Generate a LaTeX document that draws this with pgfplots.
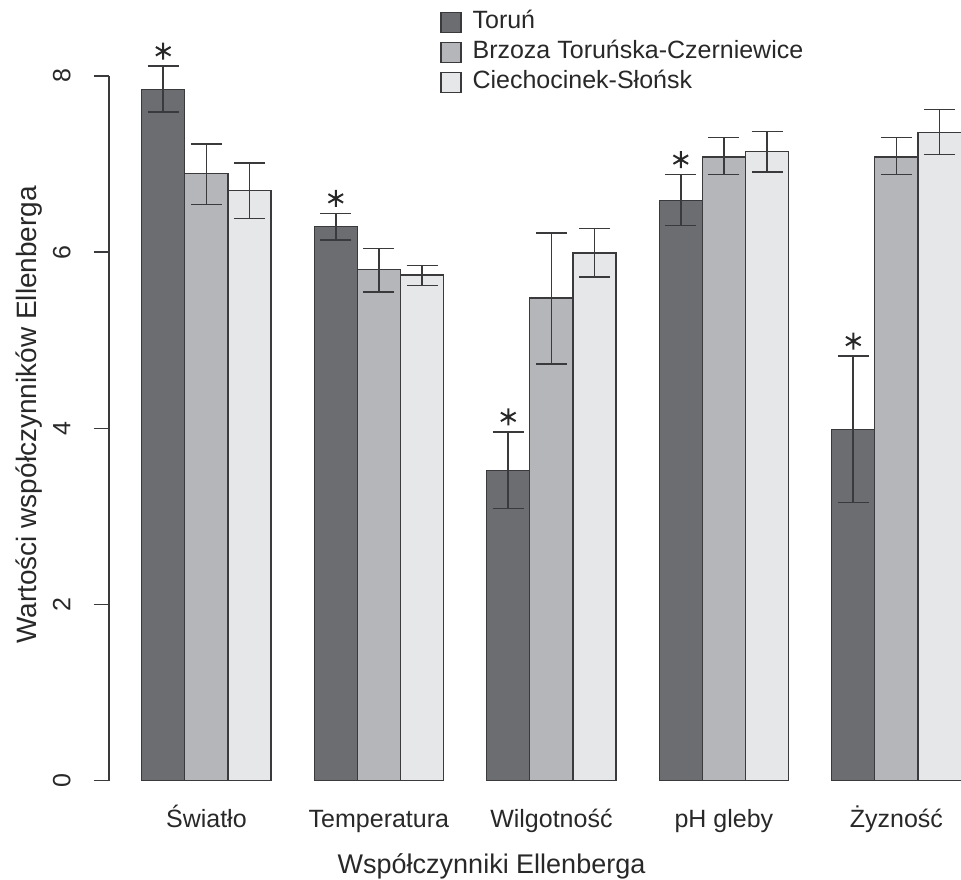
\documentclass[border=0pt]{standalone}
\usepackage{fontspec}
\setmainfont{Liberation Sans}
\usepackage{pgfplots}
\pgfplotsset{compat=1.18}
\usepackage{pgfplotstable}

\definecolor{cT}{RGB}{108,109,113}
\definecolor{cB}{RGB}{181,182,186}
\definecolor{cC}{RGB}{230,231,233}
\definecolor{edge}{RGB}{58,58,60}
\definecolor{txt}{RGB}{40,40,40}

% x = bar centre (R barplot units), y = mean, ep/em = error up/down
\pgfplotstableread{
x y ep em
1.5 7.85 0.26 0.26
5.5 6.29 0.15 0.15
9.5 3.52 0.44 0.43
13.5 6.59 0.29 0.29
17.5 3.99 0.83 0.83
}\torun
\pgfplotstableread{
x y ep em
2.5 6.89 0.34 0.35
6.5 5.80 0.24 0.25
10.5 5.48 0.74 0.75
14.5 7.08 0.22 0.20
18.5 7.08 0.22 0.20
}\brzoza
\pgfplotstableread{
x y ep em
3.5 6.70 0.31 0.32
7.5 5.74 0.11 0.12
11.5 5.99 0.28 0.27
15.5 7.14 0.23 0.23
19.5 7.36 0.26 0.25
}\ciech
\pgfplotstableread{
x y
1.5 8.28
5.5 6.61
9.5 4.13
13.5 7.05
17.5 4.99
}\stars

\begin{document}
\begin{tikzpicture}
\useasboundingbox (0,0) rectangle (480.5pt,439.5pt);
\begin{axis}[
  at={(54.45pt,49.15pt)}, anchor=south west,
  scale only axis, width=426.1pt, height=352.4pt,
  xmin=0.24, xmax=20, ymin=0, ymax=8,
  enlargelimits=false, clip=false,
  axis lines*=left,
  x axis line style={draw=none},
  y axis line style={draw=edge, line width=0.7pt},
  tick align=outside,
  major tick length=7.5pt,
  xtick style={draw=none},
  ytick style={draw=edge, line width=0.7pt},
  xtick={2.5,6.5,10.5,14.5,18.5},
  xticklabels={Światło, Temperatura, Wilgotność, pH gleby, Żyzność},
  ytick={0,2,4,6,8},
  /pgf/number format/assume math mode=true,
  tick label style={font=\fontsize{12.5pt}{15pt}\selectfont, text=txt},
  yticklabel style={rotate=90, anchor=south, inner sep=0pt, yshift=11.5pt},
  xticklabel style={anchor=base, inner sep=0pt, yshift=-15.8pt},
  xlabel={Współczynniki Ellenberga},
  ylabel={Wartości współczynników Ellenberga},
  xlabel style={font=\fontsize{13.5pt}{16pt}\selectfont, text=txt, at={(axis description cs:0.449,0)}, anchor=base, yshift=-46.5pt, inner sep=0pt},
  ylabel style={font=\fontsize{14pt}{16pt}\selectfont, text=txt, at={(axis description cs:0,0.519)}, anchor=base, yshift=36pt, inner sep=0pt},
  legend style={draw=none, fill=none, at={(axis description cs:0.3885,1.0935)}, anchor=north west,
    inner sep=0pt, row sep=3pt, font=\fontsize{12.5pt}{15pt}\selectfont, text=txt,
    nodes={inner sep=0pt, text height=9pt, text depth=3pt}},
  legend cell align=left,
  error bars/error bar style={line width=0.8pt, draw=edge},
  error bars/error mark options={rotate=90, mark size=7.75pt, line width=0.8pt, draw=edge},
]
\addplot[ybar, bar width=1, bar shift=0pt, fill=cT, draw=edge, line width=0.6pt,
  legend image code/.code={\draw[line width=0.6pt, draw=edge, fill=cT] (0pt,-5pt) rectangle (10pt,5pt); \path (15.5pt,0pt);},
  error bars/.cd, y dir=both, y explicit]
  table[x=x, y=y, y error plus=ep, y error minus=em] {\torun};
\addlegendentry{Toruń}
\addplot[ybar, bar width=1, bar shift=0pt, fill=cB, draw=edge, line width=0.6pt,
  legend image code/.code={\draw[line width=0.6pt, draw=edge, fill=cB] (0pt,-5pt) rectangle (10pt,5pt); \path (15.5pt,0pt);},
  error bars/.cd, y dir=both, y explicit]
  table[x=x, y=y, y error plus=ep, y error minus=em] {\brzoza};
\addlegendentry{Brzoza Toruńska-Czerniewice}
\addplot[ybar, bar width=1, bar shift=0pt, fill=cC, draw=edge, line width=0.6pt,
  legend image code/.code={\draw[line width=0.6pt, draw=edge, fill=cC] (0pt,-5pt) rectangle (10pt,5pt); \path (15.5pt,0pt);},
  error bars/.cd, y dir=both, y explicit]
  table[x=x, y=y, y error plus=ep, y error minus=em] {\ciech};
\addlegendentry{Ciechocinek-Słońsk}
\addplot[only marks, mark=asterisk, mark size=4.25pt, mark options={line width=1pt, draw=txt}, forget plot]
  table[x=x, y=y] {\stars};
\end{axis}
\end{tikzpicture}
\end{document}
